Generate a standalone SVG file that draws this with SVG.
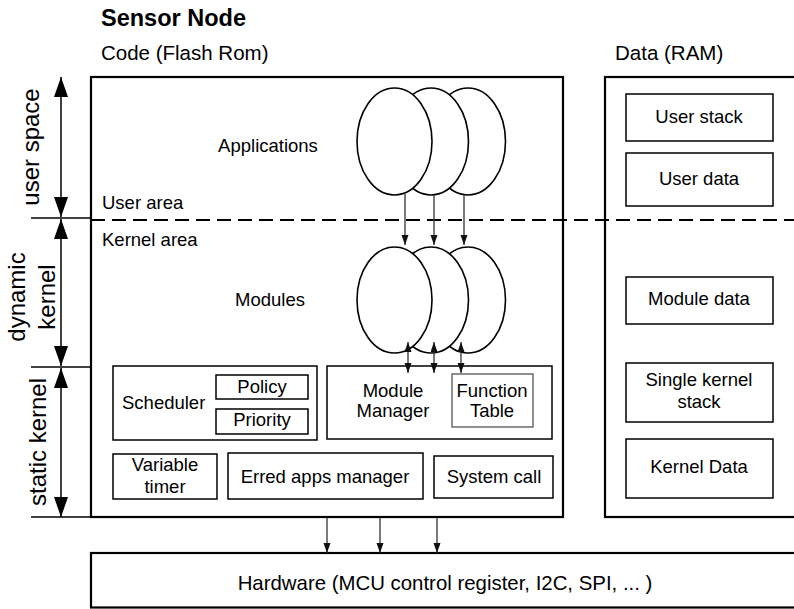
<svg xmlns="http://www.w3.org/2000/svg" width="794" height="609" viewBox="0 0 794 609">
<style>
text{font-family:"Liberation Sans",Arial,sans-serif;fill:#000}
.t{font-size:18.5px}
.c{text-anchor:middle}
.hd{font-size:20.5px}
.side{font-size:24px;text-anchor:middle}
.outer{fill:#fff;stroke:#000;stroke-width:2.2}
.box{fill:#fff;stroke:#000;stroke-width:1.5}
.gbox{fill:#fff;stroke:#555;stroke-width:1.3}
.ell{fill:#fff;stroke:#000;stroke-width:1.6}
.ar{stroke:#333;stroke-width:1.3;fill:none;marker-end:url(#ah)}
.bi{stroke:#333;stroke-width:1.3;fill:none;marker-end:url(#ah);marker-start:url(#ahs)}
.big{stroke:#000;stroke-width:1.5;fill:none;marker-end:url(#bh);marker-start:url(#bhs)}
.tick{stroke:#000;stroke-width:1.5}
</style>
<defs>
<marker id="ah" markerUnits="userSpaceOnUse" markerWidth="10" markerHeight="8" refX="10" refY="3.5" orient="auto"><path d="M0,0 L10,3.5 L0,7 z" fill="#111"/></marker>
<marker id="ahs" markerUnits="userSpaceOnUse" markerWidth="10" markerHeight="8" refX="10" refY="3.5" orient="auto-start-reverse"><path d="M0,0 L10,3.5 L0,7 z" fill="#111"/></marker>
<marker id="bh" markerUnits="userSpaceOnUse" markerWidth="20" markerHeight="14" refX="20" refY="7" orient="auto"><path d="M0,0 L20,7 L0,14 z" fill="#000"/></marker>
<marker id="bhs" markerUnits="userSpaceOnUse" markerWidth="20" markerHeight="14" refX="20" refY="7" orient="auto-start-reverse"><path d="M0,0 L20,7 L0,14 z" fill="#000"/></marker>
</defs>

<text x="101" y="26" font-size="23.5" font-weight="bold">Sensor Node</text>
<text class="hd" x="101" y="60">Code (Flash Rom)</text>
<text class="hd" x="615" y="60">Data (RAM)</text>

<g id="code-memory">
<rect class="outer" x="91" y="77" width="472" height="440"/>
<text class="t c" x="268" y="152">Applications</text>
<text class="t" x="102" y="209">User area</text>
<text class="t" x="102" y="246">Kernel area</text>
<text class="t c" x="270" y="306">Modules</text>
</g>

<g id="data-memory">
<rect class="outer" x="605" y="77" width="260" height="440"/>
</g>

<g id="hardware">
<rect class="outer" x="91" y="553" width="760" height="54.5"/>
<text class="c" font-size="20.4" x="445" y="590">Hardware (MCU control register, I2C, SPI, ... )</text>
</g>

<g id="applications">
<ellipse class="ell" cx="468" cy="141.5" rx="37.5" ry="53.5"/>
<ellipse class="ell" cx="431" cy="141.5" rx="37.5" ry="53.5"/>
<ellipse class="ell" cx="394.5" cy="141.5" rx="37.5" ry="53.5"/>
</g>

<g id="modules">
<ellipse class="ell" cx="468" cy="300" rx="37.5" ry="53"/>
<ellipse class="ell" cx="431" cy="300" rx="37.5" ry="53"/>
<ellipse class="ell" cx="394.5" cy="300" rx="37.5" ry="53"/>
</g>

<g id="scheduler">
<rect class="box" x="113" y="366" width="204" height="74"/>
<text class="t" x="122" y="409">Scheduler</text>
<rect class="box" x="216" y="375" width="92" height="24"/>
<text class="t c" x="262" y="393">Policy</text>
<rect class="box" x="216" y="409" width="92" height="25"/>
<text class="t c" x="262" y="426">Priority</text>
</g>

<g id="module-manager">
<rect class="box" x="327" y="366" width="225" height="73"/>
<text class="t c" x="393" y="397">Module</text>
<text class="t c" x="393" y="417">Manager</text>
<rect class="gbox" x="452" y="374" width="81" height="53"/>
<text class="t c" x="492" y="397">Function</text>
<text class="t c" x="492" y="417">Table</text>
</g>

<g id="variable-timer">
<rect class="box" x="113" y="454" width="104" height="45"/>
<text class="t c" x="165" y="471">Variable</text>
<text class="t c" x="165" y="493">timer</text>
</g>

<g id="erred-apps-manager">
<rect class="box" x="228" y="453" width="195" height="46"/>
<text class="t c" x="325" y="483">Erred apps manager</text>
</g>

<g id="system-call">
<rect class="box" x="434" y="456" width="119" height="42"/>
<text class="t c" x="494" y="483">System call</text>
</g>

<g id="user-stack">
<rect class="box" x="626" y="94" width="147" height="47"/>
<text class="t c" x="699" y="123">User stack</text>
</g>
<g id="user-data">
<rect class="box" x="626" y="153" width="147" height="53"/>
<text class="t c" x="699" y="185">User data</text>
</g>
<g id="module-data">
<rect class="box" x="626" y="277" width="147" height="47"/>
<text class="t c" x="699" y="305">Module data</text>
</g>
<g id="single-kernel-stack">
<rect class="box" x="626" y="363" width="147" height="59"/>
<text class="t c" x="699" y="386">Single kernel</text>
<text class="t c" x="699" y="408">stack</text>
</g>
<g id="kernel-data">
<rect class="box" x="626" y="439" width="147" height="59"/>
<text class="t c" x="699" y="473">Kernel Data</text>
</g>

<g id="side-labels">
<text class="side" transform="translate(39,147) rotate(-90)">user space</text>
<text class="side" transform="translate(25,297) rotate(-90)">dynamic</text>
<text class="side" transform="translate(55,297) rotate(-90)">kernel</text>
<text class="side" transform="translate(46,442) rotate(-90)">static kernel</text>
</g>

<g id="connectors">
<line x1="91" y1="220" x2="794" y2="220" stroke="#000" stroke-width="2" stroke-dasharray="14 7"/>
<line class="tick" x1="31" y1="218" x2="91" y2="218"/>
<line class="tick" x1="31" y1="367" x2="91" y2="367"/>
<line class="tick" x1="31" y1="517" x2="91" y2="517"/>
<line class="big" x1="61" y1="77" x2="61" y2="217"/>
<line class="big" x1="61" y1="219" x2="61" y2="366"/>
<line class="big" x1="61" y1="368" x2="61" y2="517"/>
<line class="ar" x1="405" y1="194" x2="405" y2="245"/>
<line class="ar" x1="434" y1="195" x2="434" y2="245"/>
<line class="ar" x1="464" y1="194" x2="464" y2="245"/>
<line class="bi" x1="408" y1="342" x2="408" y2="373"/>
<line class="bi" x1="434" y1="342" x2="434" y2="373"/>
<line class="bi" x1="461" y1="342" x2="461" y2="373"/>
<line class="ar" x1="327" y1="518" x2="327" y2="553"/>
<line class="ar" x1="380" y1="518" x2="380" y2="553"/>
<line class="ar" x1="437" y1="518" x2="437" y2="553"/>
</g>
</svg>
